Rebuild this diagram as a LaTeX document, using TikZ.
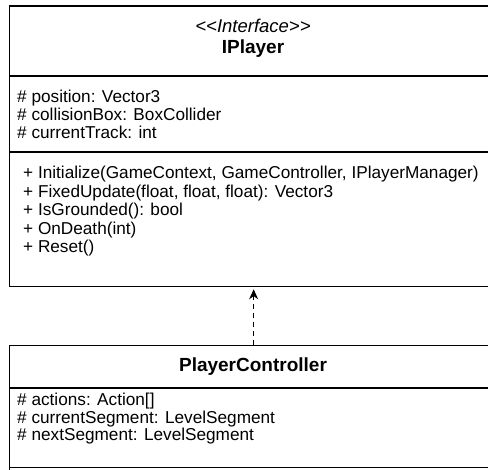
\documentclass[tikz,border=0pt]{standalone}
\usepackage{fontspec}
\setmainfont{Liberation Sans}[Ligatures=NoCommon]
\usetikzlibrary{arrows.meta}
\tikzset{
  box/.style={draw=black, line width=1.3pt, fill=white, anchor=north west, inner sep=0pt, minimum width=488pt},
  sep/.style={draw=black, line width=1.3pt},
  line/.style={anchor=base west, inner sep=0pt, font=\fontsize{17.2}{19}\selectfont},
  title/.style={anchor=base, inner sep=0pt, font=\fontsize{18.5}{20}\selectfont},
  realize/.style={draw=black, line width=1pt, dash pattern=on 5pt off 4pt, -{Stealth[length=10pt,width=9pt]}, shorten >=2pt}
}
\begin{document}
\begin{tikzpicture}[x=1pt,y=-1pt]
\useasboundingbox (0,0) rectangle (488,470);
\clip (0,0) rectangle (488,470);
\fill[white] (0,0) rectangle (488,470);
% IPlayer
\node[box, minimum height=280.5pt] (ip) at (9,5.5) {};
\draw[sep] (9,76) -- (497,76);
\draw[sep] (9,152) -- (497,152);
\node[title, font=\fontsize{18.5}{20}\selectfont\itshape] (ster) at (253,33) {{<}{<}Interface{>}{>}};
\node[title, font=\fontsize{19}{20}\selectfont\bfseries] (ipname) at (253,54) {IPlayer};
\node[line] (ia1) at (17,103) {\# position: Vector3};
\node[line] (ia2) at (17,121) {\# collisionBox: BoxCollider};
\node[line] (ia3) at (17,139) {\# currentTrack: int};
\node[line] (im1) at (23,179) {+ Initialize(GameContext, GameController, IPlayerManager)};
\node[line] (im2) at (23,197.5) {+ FixedUpdate(float, float, float): Vector3};
\node[line] (im3) at (23,216) {+ IsGrounded(): bool};
\node[line] (im4) at (23,234.5) {+ OnDeath(int)};
\node[line] (im5) at (23,253) {+ Reset()};
% PlayerController
\node[box, minimum height=220pt] (pc) at (9,345) {};
\draw[sep] (9,388) -- (497,388);
\draw[sep] (9,467.5) -- (497,467.5);
\node[title, font=\fontsize{19}{20}\selectfont\bfseries] (pcname) at (253,372) {PlayerController};
\node[line] (pa1) at (17,406) {\# actions: Action[]};
\node[line] (pa2) at (17,423.5) {\# currentSegment: LevelSegment};
\node[line] (pa3) at (17,441) {\# nextSegment: LevelSegment};
% realization
\draw[realize] (pc.north) -- (ip.south);
\end{tikzpicture}
\end{document}
